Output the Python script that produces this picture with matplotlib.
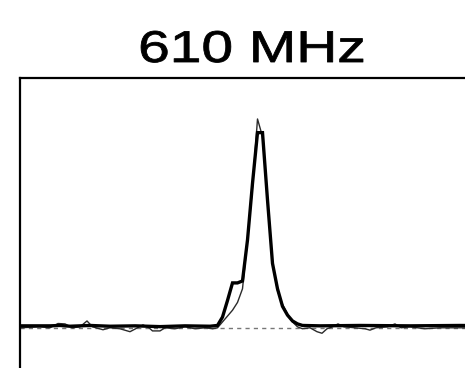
import numpy as np
import matplotlib
matplotlib.use("Agg")
import matplotlib.pyplot as plt
from matplotlib.patheffects import AbstractPathEffect
from matplotlib.transforms import Affine2D

# velocity (km/s) and normalised flux of the two spectra
vel_thin = [-480, -440, -420, -404, -390, -375, -360, -346, -335, -314, -300,
            -280, -260, -245, -234, -222, -215, -200, -190, -170, -150, -130,
            -110, -95, -85, -75, -65, -55, -45, -35, -25, -15, -5, 5, 15, 25,
            35, 45, 55, 65, 75, 85, 100, 114, 124, 134, 145, 156, 168, 190,
            210, 220, 232, 255, 270, 282, 300, 330, 360, 400, 440, 480]
flux_thin = [0.0, 0.005, 0.0, 0.022, 0.02, 0.0, 0.005, 0.035, 0.005, -0.01, 0.0,
             -0.005, -0.02, 0.0, 0.015, 0.0, -0.016, -0.016, 0.0, -0.005, 0.005,
             -0.005, 0.0, -0.005, 0.0, 0.03, 0.06, 0.09, 0.13, 0.2, 0.45, 0.72,
             1.07, 0.98, 0.66, 0.33, 0.19, 0.12, 0.07, 0.03, 0.005, -0.005, 0.0,
             -0.02, -0.028, -0.005, 0.005, 0.02, 0.005, 0.0, -0.005, -0.012, 0.0,
             0.005, 0.02, 0.0, 0.005, -0.005, 0.0, 0.0, 0.0, 0.0]

vel_thick = [-480, -420, -400, -380, -340, -300, -250, -200, -150, -100, -85,
             -75, -65, -55, -45, -35, -25, -15, -5, 5, 15, 25, 35, 45, 55, 65,
             75, 85, 120, 200, 300, 400, 480]
flux_thick = [0.01, 0.01, 0.012, 0.008, 0.012, 0.008, 0.01, 0.006, 0.01, 0.008,
              0.012, 0.055, 0.14, 0.23, 0.23, 0.24, 0.45, 0.74, 1.0, 1.0, 0.655,
              0.33, 0.2, 0.11, 0.065, 0.035, 0.02, 0.012, 0.01, 0.012, 0.01,
              0.012, 0.01]

title = "610 MHz"


class Widen(AbstractPathEffect):
    """Stretch a text path sideways about a fixed x (display pixels)
    and give it a thin outline so the glyphs read a bit heavier."""

    def __init__(self, sx, cx, lw=0.6):
        super().__init__()
        self.sx = sx
        self.cx = cx
        self.lw = lw

    def draw_path(self, renderer, gc, tpath, affine, rgbFace=None):
        stretch = Affine2D().translate(-self.cx, 0).scale(self.sx, 1).translate(self.cx, 0)
        gc0 = renderer.new_gc()
        gc0.copy_properties(gc)
        gc0.set_linewidth(self.lw)
        gc0.set_foreground(rgbFace if rgbFace is not None else "black")
        gc0.set_joinstyle("round")
        renderer.draw_path(gc0, tpath, affine + stretch, rgbFace)
        gc0.restore()


W, H = 465, 368
fig = plt.figure(figsize=(W / 100, H / 100), dpi=100)

ax = fig.add_axes([20 / W, (H - 400) / H, 480 / W, 322 / H])
ax.axhline(0, color="#777777", lw=1.0, ls=(0, (3, 3)), zorder=1)
ax.plot(vel_thin, flux_thin, color="#2a2a2a", lw=1.0, zorder=2)
ax.plot(vel_thick, flux_thick, color="black", lw=2.4, zorder=3,
        solid_joinstyle="miter")
ax.set_xlim(-480, 480)
ax.set_ylim(-0.37, 1.28)
ax.set_xticks([])
ax.set_yticks([])
for side in ("right", "bottom"):
    ax.spines[side].set_visible(False)
for side in ("left", "top"):
    ax.spines[side].set_linewidth(1.6)

tx = 252
fig.text(tx / W, 1 - 62 / H, title, ha="center", va="baseline",
         family="Liberation Sans", fontsize=32,
         path_effects=[Widen(1.28, tx)])

fig.savefig("out.png", dpi=100)
